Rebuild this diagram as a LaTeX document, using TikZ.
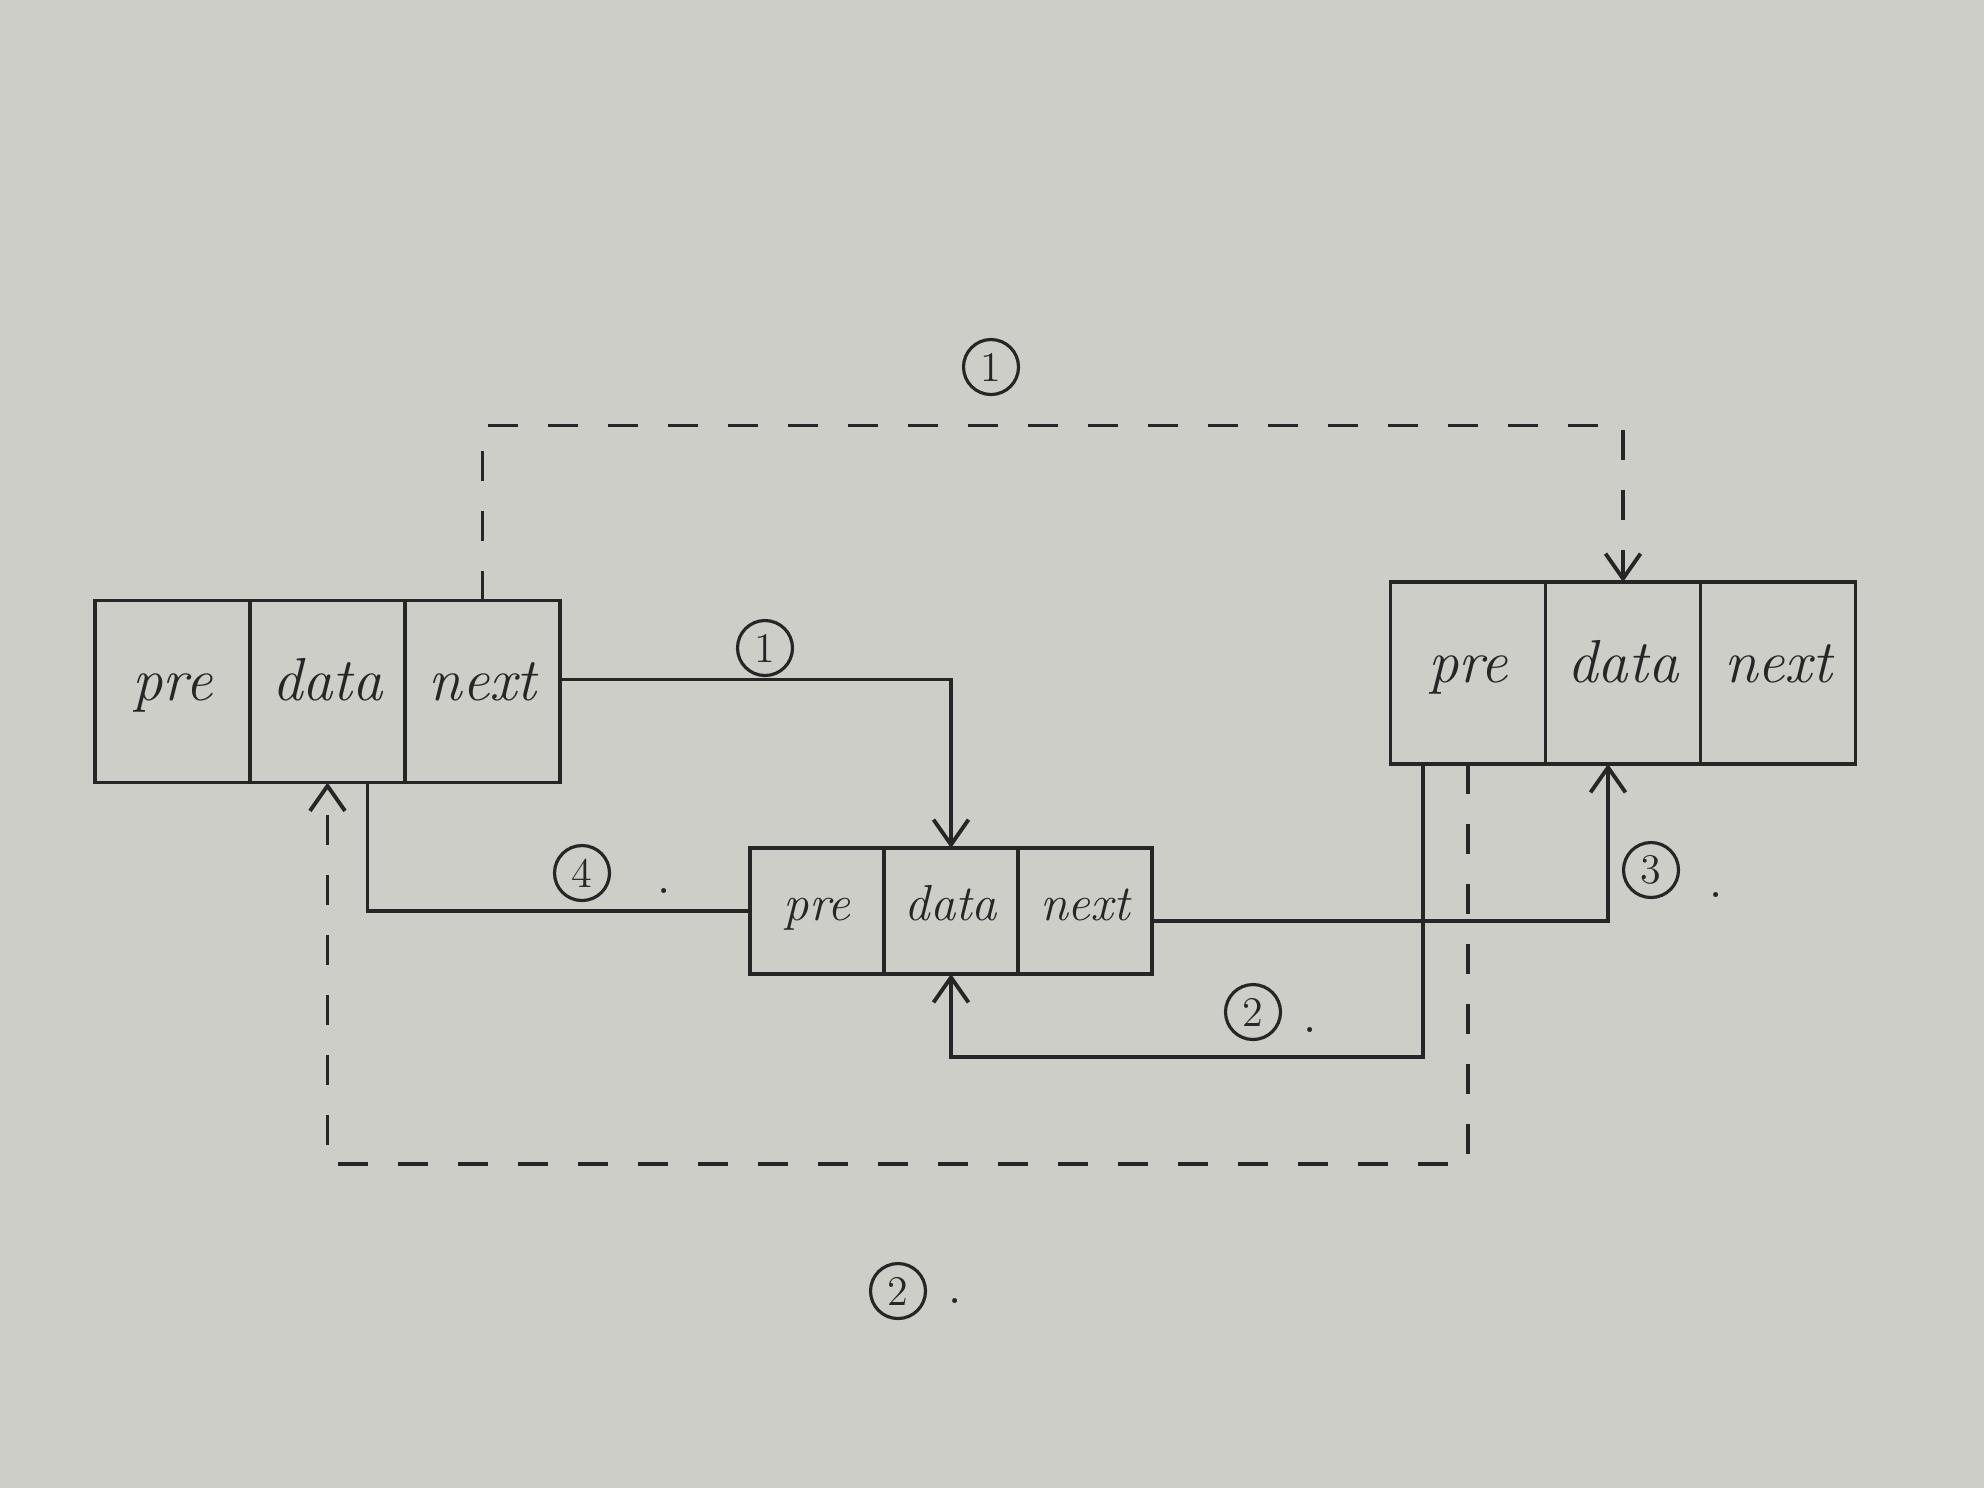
\documentclass[tikz,border=0pt]{standalone}
\usepackage{tikz}
\usepackage{xcolor}
\usetikzlibrary{shapes,arrows,positioning}
\usetikzlibrary{arrows.meta}
\definecolor{paper}{RGB}{206,206,200}
\definecolor{ink}{RGB}{38,38,38}

\begin{document}
\begin{tikzpicture}[
    cell/.style={rectangle, draw=ink, line width=1.1pt, outer sep=0pt, inner sep=0pt, minimum width=15.5mm, minimum height=18.2mm, text height=1.6ex, text depth=0.4ex, font=\LARGE\itshape, text=ink},
    smallcell/.style={rectangle, draw=ink, line width=1.1pt, outer sep=0pt, inner sep=0pt, minimum width=13.4mm, minimum height=12.6mm, text height=1.6ex, text depth=0.4ex, font=\Large\itshape, text=ink},
    num/.style={circle, draw=ink, line width=0.9pt, inner sep=1pt, minimum size=5.5mm, font=\large, text=ink},
    numdot/.style={font=\LARGE, text=ink, inner sep=0pt},
    link/.style={draw=ink, line width=1.1pt, -{Straight Barb[length=2.5mm,width=3.5mm]}},
    plainlink/.style={draw=ink, line width=1.1pt},
    dashlink/.style={link, dash pattern=on 3mm off 3mm}
]

% Paper
\fill[paper] (0,0) rectangle (19.84,-14.88);

% Left node
\node[cell] (lpre) at (1.725,-6.915) {pre};
\node[cell, right=0pt of lpre] (ldata) {data};
\node[cell, right=0pt of ldata] (lnext) {next};

% New node in the middle
\node[smallcell] (mpre) at (8.17,-9.11) {pre};
\node[smallcell, right=0pt of mpre] (mdata) {data};
\node[smallcell, right=0pt of mdata] (mnext) {next};

% Right node
\node[cell] (rpre) at (14.68,-6.73) {pre};
\node[cell, right=0pt of rpre] (rdata) {data};
\node[cell, right=0pt of rdata] (rnext) {next};

% Solid links
\draw[link] ([yshift=1.2mm]lnext.east) -| (mdata.north);
\draw[plainlink] (mpre.west) -| ([xshift=4mm]ldata.south);
\draw[link] ([yshift=-1mm]mnext.east) -| ([xshift=-1.5mm]rdata.south);
\draw[link] ([xshift=-4.5mm]rpre.south) |- ([yshift=-8.3mm]mdata.south) -- (mdata.south);

% Dashed links (old pointers)
\draw[dashlink] (lnext.north) -- ++(0,1.75) -| (rdata.north);
\draw[dashlink] (rpre.south) -- ++(0,-4.0) -| (ldata.south);

% Step numbers
\node[num] (n1a) at (7.65,-6.48) {1};
\node[num] (n1b) at (9.91,-3.67) {1};
\node[num] (n4) at (5.82,-8.73) {4};
\node[numdot, right=4.5mm of n4, yshift=-1.8mm] (d4) {.};
\node[num] (n3) at (16.51,-8.70) {3};
\node[numdot, right=2.8mm of n3, yshift=-2.5mm] (d3) {.};
\node[num] (n2a) at (12.53,-10.12) {2};
\node[numdot, right=2mm of n2a, yshift=-1.8mm] (d2a) {.};
\node[num] (n2b) at (8.98,-12.91) {2};
\node[numdot, right=2mm of n2b, yshift=-1mm] (d2b) {.};

\end{tikzpicture}
\end{document}
